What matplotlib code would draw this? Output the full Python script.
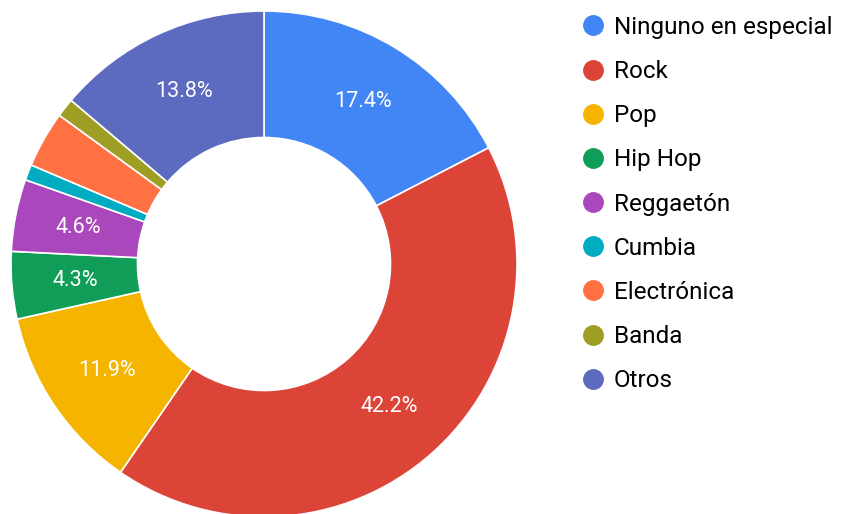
import matplotlib
matplotlib.use("Agg")
import matplotlib.pyplot as plt
from matplotlib.lines import Line2D

plt.rcParams['font.family'] = ['Roboto', 'DejaVu Sans']

generos = ['Ninguno en especial', 'Rock', 'Pop', 'Hip Hop', 'Reggaetón',
           'Cumbia', 'Electrónica', 'Banda', 'Otros']
porcentajes = [17.4, 42.2, 11.9, 4.3, 4.6, 1.0, 3.6, 1.2, 13.8]
colores = ['#4285F4', '#DB4437', '#F4B400', '#0F9D58', '#AB47BC',
           '#00ACC1', '#FF7043', '#9E9D24', '#5C6BC0']

W, H = 843, 514
fig = plt.figure(figsize=(W / 100, H / 100), dpi=100)

# pie centre and radius in pixels
cx, cy, r = 264, 264, 253
ax = fig.add_axes([(cx - r) / W, (H - cy - r) / H, 2 * r / W, 2 * r / H])

def etiqueta(p):
    return f'{p:.1f}%' if p >= 4 else ''

wedges, texts, autotexts = ax.pie(
    porcentajes, colors=colores, startangle=90, counterclock=False,
    radius=1, autopct=etiqueta, pctdistance=0.75,
    wedgeprops=dict(width=0.5, edgecolor='white', linewidth=1.2),
    textprops=dict(color='white', fontsize=15.5))
ax.set_xlim(-1, 1)
ax.set_ylim(-1, 1)
ax.set_aspect('equal')
ax.axis('off')

handles = [Line2D([], [], marker='o', linestyle='none', markersize=14,
                  markerfacecolor=c, markeredgecolor=c) for c in colores]
fig.legend(handles, generos, loc='upper left',
           bbox_to_anchor=(581 / W, 1 - 16 / H), frameon=False,
           fontsize=17.5, labelspacing=0.87, handlelength=1.0,
           handletextpad=0.36, borderpad=0, borderaxespad=0)

fig.savefig('out.png', dpi=100)
